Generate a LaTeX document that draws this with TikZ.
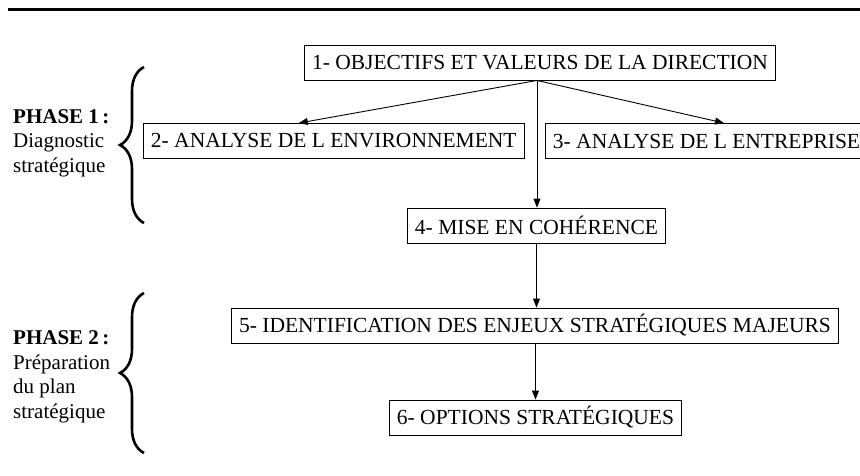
\documentclass[tikz,border=0pt]{standalone}
\usepackage{fontspec}
\setmainfont{Liberation Serif}
\usetikzlibrary{arrows.meta,decorations.pathreplacing}
\tikzset{>={Triangle[width=7pt,length=9pt]}}

\begin{document}
\begin{tikzpicture}[x=1pt,y=-1pt,font=\fontsize{21.5}{24.5}\selectfont]
\tikzstyle{b}=[draw,line width=0.9pt,inner xsep=7.5pt,minimum height=35pt,anchor=center]
\tikzstyle{ph}=[align=left,anchor=west,inner sep=0pt,font=\fontsize{21}{24.5}\selectfont]
\tikzstyle{br}=[decorate,decoration={brace,amplitude=24pt,aspect=0.5},line width=2.6pt]
    \useasboundingbox (0,0) rectangle (860,475);
    \draw[line width=3pt] (8,9) -- (860,9);

    % boxes
    \node[b] (1) at (540,62.5){1- OBJECTIFS ET VALEURS DE LA DIRECTION};
    \node[b,anchor=west] (2) at (143,141){2- ANALYSE DE L ENVIRONNEMENT};
    \node[b,anchor=west] (3) at (545,141){3- ANALYSE DE L ENTREPRISE};
    \node[b] (4) at (536.5,225.5){4- MISE EN COHÉRENCE};
    \node[b] (5) at (535,325.5){5- IDENTIFICATION DES ENJEUX STRATÉGIQUES MAJEURS};
    \node[b] (6) at (535.5,417.5){6- OPTIONS STRATÉGIQUES};

    % phases
    \node[ph] (p1) at (13,143){\textbf{PHASE 1\,:}\\Diagnostic\\stratégique};
    \node[ph] (p2) at (13,377){\textbf{PHASE 2\,:}\\Préparation\\du plan\\stratégique};
    \draw[br] (144,223) -- (144,67);
    \draw[br] (144,453) -- (144,293);

    \draw[->,line width=0.9pt] ([xshift=-3pt]1.south) -- ([xshift=-35pt]2.north);
    \draw[->,line width=0.9pt] ([xshift=-3pt]1.south) -- ([xshift=179pt]3.north west);
    \draw[->,line width=0.9pt] ([xshift=-3pt]1.south) -- ([xshift=-3pt]1.south |- 4.north);
    \draw[->,line width=0.9pt] (4.south) -- (5.north -| 4.south);
    \draw[->,line width=0.9pt] (5.south -| 6.north) -- (6.north);

\end{tikzpicture}
\end{document}
